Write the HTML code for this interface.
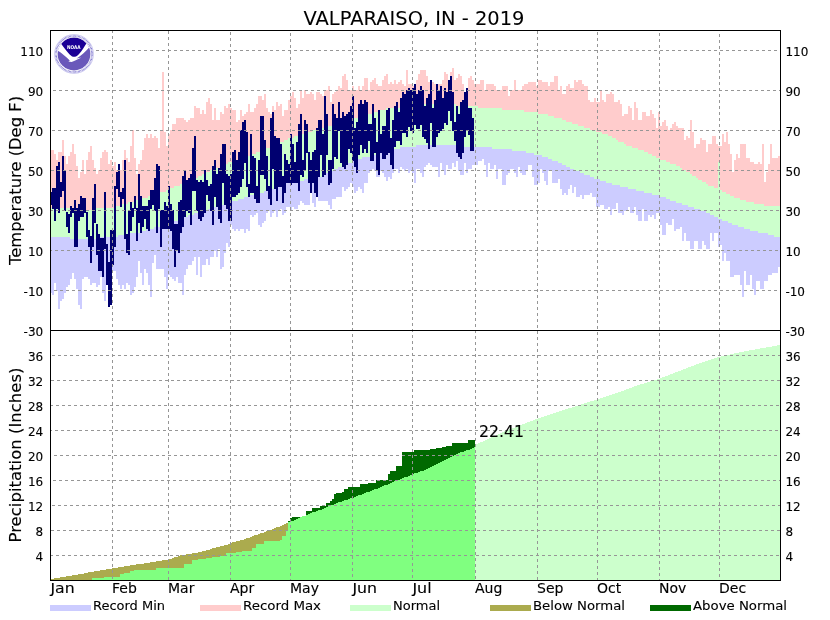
<!DOCTYPE html>
<html><head><meta charset="utf-8"><title>VALPARAISO, IN - 2019</title>
<style>html,body{margin:0;padding:0;background:#fff}svg{display:block}</style>
</head><body>
<svg width="830" height="620" viewBox="0 0 830 620">
<rect width="830" height="620" fill="#fff"/>
<g shape-rendering="crispEdges">
<path d="M50 236H52V293H50ZM52 236H54V295H52ZM54 236H56V283H54ZM56 236H58V291H56ZM58 236H60V309H58ZM60 236H62V301H60ZM62 236H64V299H62ZM64 236H66V293H64ZM66 236H68V287H66ZM68 236H70V285H68ZM70 238H72V279H70ZM72 238H74V273H72ZM74 238H76V279H74ZM76 238H78V289H76ZM78 238H80V305H78ZM80 238H82V309H80ZM82 238H84V279H82ZM84 238H88V277H84ZM88 238H90V279H88ZM90 238H92V285H90ZM92 238H96V283H92ZM96 236H98V287H96ZM98 236H100V285H98ZM100 236H102V277H100ZM102 236H104V293H102ZM104 236H106V301H104ZM106 236H112V285H106ZM112 236H116V271H112ZM116 236H118V279H116ZM118 234H120V285H118ZM120 234H122V289H120ZM122 234H124V285H122ZM124 234H126V289H124ZM126 234H128V283H126ZM128 232H130V285H128ZM130 232H132V295H130ZM132 232H134V293H132ZM134 232H136V287H134ZM136 232H138V277H136ZM138 232H140V261H138ZM140 230H142V273H140ZM142 230H144V285H142ZM144 230H146V269H144ZM146 228H148V273H146ZM148 228H150V285H148ZM150 228H152V297H150ZM152 228H154V263H152ZM154 226H156V255H154ZM156 226H160V269H156ZM160 224H164V269H160ZM164 224H166V277H164ZM166 224H168V289H166ZM168 222H170V275H168ZM170 222H172V277H170ZM172 220H174V279H172ZM174 220H176V281H174ZM176 220H178V277H176ZM178 218H182V283H178ZM182 216H184V295H182ZM184 216H186V275H184ZM186 216H188V269H186ZM188 214H192V265H188ZM192 214H194V261H192ZM194 212H196V257H194ZM196 212H198V275H196ZM198 212H200V257H198ZM200 212H202V277H200ZM202 210H206V265H202ZM206 210H208V259H206ZM208 208H210V265H208ZM210 208H214V257H210ZM214 206H216V251H214ZM216 206H218V257H216ZM218 206H220V249H218ZM220 204H222V269H220ZM222 204H224V267H222ZM224 204H226V253H224ZM226 202H228V243H226ZM228 202H230V247H228ZM230 202H232V225H230ZM232 200H234V229H232ZM234 200H236V231H234ZM236 200H238V229H236ZM238 198H240V231H238ZM240 198H244V229H240ZM244 196H246V233H244ZM246 196H248V229H246ZM248 196H250V231H248ZM250 194H252V215H250ZM252 194H254V217H252ZM254 194H256V215H254ZM256 194H258V213H256ZM258 192H260V225H258ZM260 192H262V227H260ZM262 192H264V223H262ZM264 190H266V221H264ZM266 190H268V213H266ZM268 190H270V211H268ZM270 190H272V217H270ZM272 188H274V213H272ZM274 188H276V211H274ZM276 188H278V217H276ZM278 186H280V211H278ZM280 186H282V209H280ZM282 184H284V215H282ZM284 184H286V213H284ZM286 182H290V207H286ZM290 182H292V211H290ZM292 182H294V207H292ZM294 182H296V209H294ZM296 180H298V209H296ZM298 180H300V205H298ZM300 180H302V201H300ZM302 180H304V203H302ZM304 178H310V205H304ZM310 178H312V193H310ZM312 176H314V203H312ZM314 176H316V207H314ZM316 176H318V197H316ZM318 176H322V201H318ZM322 174H326V201H322ZM326 172H328V201H326ZM328 172H330V205H328ZM330 170H332V209H330ZM332 170H334V199H332ZM334 168H336V199H334ZM336 168H338V197H336ZM338 166H342V197H338ZM342 166H344V187H342ZM344 164H346V191H344ZM346 164H348V189H346ZM348 162H350V187H348ZM350 162H352V183H350ZM352 160H354V187H352ZM354 160H356V193H354ZM356 160H358V191H356ZM358 158H360V187H358ZM360 158H362V189H360ZM362 156H364V193H362ZM364 156H368V183H364ZM368 156H370V173H368ZM370 154H372V171H370ZM372 154H374V169H372ZM374 154H376V171H374ZM376 152H380V177H376ZM380 152H382V171H380ZM382 152H384V173H382ZM384 150H386V177H384ZM386 150H388V181H386ZM388 150H390V177H388ZM390 148H392V179H390ZM392 148H394V173H392ZM394 148H398V169H394ZM398 148H400V173H398ZM400 146H402V167H400ZM402 146H404V169H402ZM404 146H406V171H404ZM406 146H408V169H406ZM408 146H410V173H408ZM410 146H412V171H410ZM412 146H414V173H412ZM414 146H416V183H414ZM416 144H420V169H416ZM420 144H422V173H420ZM422 144H424V177H422ZM424 144H426V167H424ZM426 144H428V165H426ZM428 144H430V163H428ZM430 144H432V165H430ZM432 144H438V167H432ZM438 144H440V177H438ZM440 144H442V163H440ZM442 144H444V171H442ZM444 144H446V175H444ZM446 144H448V165H446ZM448 144H452V169H448ZM452 144H454V163H452ZM454 144H456V167H454ZM456 144H458V161H456ZM458 146H460V171H458ZM460 146H464V175H460ZM464 146H466V163H464ZM466 146H468V173H466ZM468 146H472V169H468ZM472 146H478V165H472ZM478 146H482V161H478ZM482 146H484V159H482ZM484 146H486V165H484ZM486 146H488V177H486ZM488 146H490V163H488ZM490 146H492V169H490ZM492 148H494V169H492ZM494 148H496V165H494ZM496 148H498V179H496ZM498 148H502V169H498ZM502 148H506V185H502ZM506 148H508V175H506ZM508 148H510V173H508ZM510 148H512V169H510ZM512 150H514V169H512ZM514 150H516V173H514ZM516 150H518V177H516ZM518 150H520V167H518ZM520 150H522V173H520ZM522 150H526V175H522ZM526 152H528V171H526ZM528 152H532V165H528ZM532 152H534V177H532ZM534 154H538V185H534ZM538 154H540V183H538ZM540 154H542V169H540ZM542 156H544V173H542ZM544 156H546V181H544ZM546 156H548V185H546ZM548 158H552V171H548ZM552 160H558V183H552ZM558 162H560V179H558ZM560 162H562V189H560ZM562 164H564V195H562ZM564 164H566V193H564ZM566 166H568V195H566ZM568 166H570V189H568ZM570 168H572V185H570ZM572 168H574V193H572ZM574 170H576V187H574ZM576 170H580V197H576ZM580 172H582V195H580ZM582 172H584V199H582ZM584 174H590V195H584ZM590 176H592V193H590ZM592 176H594V197H592ZM594 178H596V197H594ZM596 178H600V207H596ZM600 180H604V205H600ZM604 180H606V209H604ZM606 182H608V209H606ZM608 182H610V207H608ZM610 182H612V215H610ZM612 184H616V209H612ZM616 184H618V203H616ZM618 184H620V213H618ZM620 186H622V213H620ZM622 186H624V215H622ZM624 186H628V211H624ZM628 188H630V207H628ZM630 188H634V213H630ZM634 188H636V207H634ZM636 190H638V215H636ZM638 190H642V221H638ZM642 190H644V209H642ZM644 192H648V221H644ZM648 192H650V215H648ZM650 192H652V217H650ZM652 194H654V215H652ZM654 194H656V219H654ZM656 194H660V213H656ZM660 196H662V225H660ZM662 196H666V235H662ZM666 198H668V223H666ZM668 198H670V225H668ZM670 200H672V225H670ZM672 200H674V219H672ZM674 200H676V231H674ZM676 202H680V229H676ZM680 202H682V227H680ZM682 204H684V241H682ZM684 204H686V233H684ZM686 204H688V241H686ZM688 206H690V241H688ZM690 206H694V249H690ZM694 208H698V241H694ZM698 208H700V249H698ZM700 210H702V249H700ZM702 210H704V241H702ZM704 210H706V245H704ZM706 212H710V249H706ZM710 214H712V233H710ZM712 214H714V241H712ZM714 216H718V233H714ZM718 218H720V247H718ZM720 218H722V245H720ZM722 220H724V261H722ZM724 220H726V253H724ZM726 220H728V261H726ZM728 222H730V261H728ZM730 222H732V277H730ZM732 224H734V277H732ZM734 224H738V275H734ZM738 226H740V275H738ZM740 226H742V285H740ZM742 226H744V297H742ZM744 228H746V271H744ZM746 228H750V285H746ZM750 230H752V275H750ZM752 230H754V289H752ZM754 230H756V295H754ZM756 230H758V281H756ZM758 232H760V281H758ZM760 232H764V289H760ZM764 232H768V281H764ZM768 234H772V275H768ZM772 234H774V273H772ZM774 236H778V273H774ZM778 236H780V267H778Z" fill="#ccccff"/>
<path d="M50 208H70V237H50ZM70 208H76V239H70ZM76 210H94V239H76ZM94 208H96V239H94ZM96 208H114V237H96ZM114 206H118V237H114ZM118 206H122V235H118ZM122 204H128V235H122ZM128 202H136V233H128ZM136 200H140V233H136ZM140 200H142V231H140ZM142 198H146V231H142ZM146 198H148V229H146ZM148 196H154V229H148ZM154 194H160V227H154ZM160 192H166V225H160ZM166 190H168V225H166ZM168 190H170V223H168ZM170 188H172V223H170ZM172 188H174V221H172ZM174 186H178V221H174ZM178 186H180V219H178ZM180 184H182V219H180ZM182 184H184V217H182ZM184 182H188V217H184ZM188 180H192V215H188ZM192 178H194V215H192ZM194 178H198V213H194ZM198 176H202V213H198ZM202 174H206V211H202ZM206 172H208V211H206ZM208 172H210V209H208ZM210 170H214V209H210ZM214 170H216V207H214ZM216 168H220V207H216ZM220 166H224V205H220ZM224 164H226V205H224ZM226 164H228V203H226ZM228 162H232V203H228ZM232 162H234V201H232ZM234 160H238V201H234ZM238 160H240V199H238ZM240 158H244V199H240ZM244 156H250V197H244ZM250 154H256V195H250ZM256 152H258V195H256ZM258 152H260V193H258ZM260 150H264V193H260ZM264 148H270V191H264ZM270 146H272V191H270ZM272 146H274V189H272ZM274 144H278V189H274ZM278 142H282V187H278ZM282 142H284V185H282ZM284 140H286V185H284ZM286 140H288V183H286ZM288 138H294V183H288ZM294 136H296V183H294ZM296 136H300V181H296ZM300 134H304V181H300ZM304 134H306V179H304ZM306 132H312V179H306ZM312 130H320V177H312ZM320 128H322V177H320ZM322 128H326V175H322ZM326 126H330V173H326ZM330 126H332V171H330ZM332 124H334V171H332ZM334 124H338V169H334ZM338 124H340V167H338ZM340 122H344V167H340ZM344 122H346V165H344ZM346 120H348V165H346ZM348 120H352V163H348ZM352 118H358V161H352ZM358 118H360V159H358ZM360 116H362V159H360ZM362 116H366V157H362ZM366 114H370V157H366ZM370 114H372V155H370ZM372 112H376V155H372ZM376 112H378V153H376ZM378 110H384V153H378ZM384 110H386V151H384ZM386 108H390V151H386ZM390 108H400V149H390ZM400 106H416V147H400ZM416 106H418V145H416ZM418 104H456V145H418ZM456 106H458V145H456ZM458 106H478V147H458ZM478 108H492V147H478ZM492 108H502V149H492ZM502 110H512V149H502ZM512 110H524V151H512ZM524 112H526V151H524ZM526 112H534V153H526ZM534 112H538V155H534ZM538 114H542V155H538ZM542 114H548V157H542ZM548 116H552V159H548ZM552 116H554V161H552ZM554 118H558V161H554ZM558 118H562V163H558ZM562 120H566V165H562ZM566 122H570V167H566ZM570 122H572V169H570ZM572 124H574V169H572ZM574 124H578V171H574ZM578 126H580V171H578ZM580 126H584V173H580ZM584 128H590V175H584ZM590 130H594V177H590ZM594 130H596V179H594ZM596 132H600V179H596ZM600 132H602V181H600ZM602 134H606V181H602ZM606 134H608V183H606ZM608 136H612V183H608ZM612 138H616V185H612ZM616 140H618V185H616ZM618 142H620V185H618ZM620 142H624V187H620ZM624 144H626V187H624ZM626 146H628V187H626ZM628 146H632V189H628ZM632 148H636V189H632ZM636 148H638V191H636ZM638 150H644V191H638ZM644 152H648V193H644ZM648 154H652V193H648ZM652 156H656V195H652ZM656 158H660V195H656ZM660 160H666V197H660ZM666 162H670V199H666ZM670 164H676V201H670ZM676 166H680V203H676ZM680 168H682V203H680ZM682 170H686V205H682ZM686 172H688V205H686ZM688 172H690V207H688ZM690 174H692V207H690ZM692 176H694V207H692ZM694 176H696V209H694ZM696 178H698V209H696ZM698 180H700V209H698ZM700 180H702V211H700ZM702 182H706V211H702ZM706 184H708V213H706ZM708 186H710V213H708ZM710 186H714V215H710ZM714 188H718V217H714ZM718 162H720V219H718ZM720 190H722V219H720ZM722 192H726V221H722ZM726 194H728V221H726ZM728 194H730V223H728ZM730 196H732V223H730ZM732 196H734V225H732ZM734 198H738V225H734ZM738 198H740V227H738ZM740 200H744V227H740ZM744 200H746V229H744ZM746 202H750V229H746ZM750 202H754V231H750ZM754 204H758V231H754ZM758 204H764V233H758ZM764 206H768V233H764ZM768 206H774V235H768ZM774 206H780V237H774Z" fill="#ccffcc"/>
<path d="M50 150H54V208H50ZM54 154H56V208H54ZM56 160H58V208H56ZM58 152H62V208H58ZM62 140H64V208H62ZM64 156H66V208H64ZM66 164H68V208H66ZM68 156H70V208H68ZM70 152H72V208H70ZM72 144H74V208H72ZM74 154H76V208H74ZM76 166H78V210H76ZM78 178H80V210H78ZM80 172H82V210H80ZM82 160H84V210H82ZM84 174H86V210H84ZM86 160H88V210H86ZM88 152H90V210H88ZM90 146H92V210H90ZM92 160H94V210H92ZM94 168H96V208H94ZM96 174H98V208H96ZM98 170H100V208H98ZM100 158H102V208H100ZM102 152H104V208H102ZM104 150H106V208H104ZM106 152H108V208H106ZM108 164H110V208H108ZM110 160H112V208H110ZM112 166H114V208H112ZM114 162H116V206H114ZM116 170H118V206H116ZM118 172H120V206H118ZM120 170H122V206H120ZM122 160H124V204H122ZM124 150H126V204H124ZM126 158H128V204H126ZM128 162H130V202H128ZM130 146H132V202H130ZM132 130H134V202H132ZM134 158H136V202H134ZM136 174H138V200H136ZM138 164H140V200H138ZM140 160H142V200H140ZM142 150H144V198H142ZM144 138H146V198H144ZM146 134H148V198H146ZM148 138H150V196H148ZM150 134H152V196H150ZM152 138H154V196H152ZM154 136H156V194H154ZM156 138H158V194H156ZM158 148H160V194H158ZM160 130H162V192H160ZM162 72H164V192H162ZM164 132H166V192H164ZM166 146H168V190H166ZM168 134H170V190H168ZM170 130H172V188H170ZM172 124H174V188H172ZM174 124H176V186H174ZM176 118H180V186H176ZM180 118H184V184H180ZM184 120H186V182H184ZM186 122H188V182H186ZM188 120H190V180H188ZM190 118H192V180H190ZM192 118H194V178H192ZM194 106H196V178H194ZM196 108H198V178H196ZM198 108H200V176H198ZM200 114H202V176H200ZM202 110H204V174H202ZM204 114H206V174H204ZM206 102H208V172H206ZM208 98H210V172H208ZM210 104H212V170H210ZM212 120H214V170H212ZM214 108H216V170H214ZM216 120H220V168H216ZM220 112H222V166H220ZM222 114H224V166H222ZM224 106H226V164H224ZM226 108H228V164H226ZM228 104H230V162H228ZM230 108H232V162H230ZM232 110H234V162H232ZM234 110H236V160H234ZM236 122H238V160H236ZM238 120H240V160H238ZM240 110H242V158H240ZM242 116H244V158H242ZM244 114H246V156H244ZM246 112H248V156H246ZM248 104H250V156H248ZM250 112H254V154H250ZM254 108H256V154H254ZM256 104H258V152H256ZM258 96H260V152H258ZM260 96H262V150H260ZM262 100H264V150H262ZM264 94H266V148H264ZM266 108H268V148H266ZM268 112H270V148H268ZM270 114H272V146H270ZM272 106H274V146H272ZM274 110H276V144H274ZM276 102H278V144H276ZM278 106H280V142H278ZM280 104H282V142H280ZM282 116H284V142H282ZM284 110H288V140H284ZM288 100H290V138H288ZM290 96H292V138H290ZM292 92H294V138H292ZM294 98H296V136H294ZM296 108H298V136H296ZM298 104H300V136H298ZM300 90H302V134H300ZM302 98H304V134H302ZM304 90H306V134H304ZM306 94H310V132H306ZM310 92H312V132H310ZM312 94H314V130H312ZM314 100H316V130H314ZM316 92H320V130H316ZM320 94H322V128H320ZM322 96H324V128H322ZM324 90H326V128H324ZM326 90H328V126H326ZM328 86H330V126H328ZM330 102H332V126H330ZM332 94H334V124H332ZM334 92H336V124H334ZM336 90H338V124H336ZM338 86H340V124H338ZM340 88H342V122H340ZM342 76H344V122H342ZM344 74H346V122H344ZM346 80H348V120H346ZM348 90H352V120H348ZM352 86H354V118H352ZM354 90H358V118H354ZM358 86H360V118H358ZM360 90H362V116H360ZM362 86H364V116H362ZM364 78H366V116H364ZM366 78H368V114H366ZM368 90H370V114H368ZM370 82H372V114H370ZM372 80H374V112H372ZM374 78H376V112H374ZM376 84H378V112H376ZM378 86H382V110H378ZM382 80H384V110H382ZM384 76H386V110H384ZM386 74H388V108H386ZM388 84H390V108H388ZM390 82H392V108H390ZM392 84H394V108H392ZM394 80H396V108H394ZM396 84H398V108H396ZM398 82H400V108H398ZM400 80H402V106H400ZM402 84H404V106H402ZM404 86H406V106H404ZM406 70H408V106H406ZM408 84H412V106H408ZM412 86H414V106H412ZM414 84H416V106H414ZM416 80H418V106H416ZM418 74H420V104H418ZM420 70H426V104H420ZM426 76H428V104H426ZM428 82H434V104H428ZM434 84H442V104H434ZM442 80H444V104H442ZM444 72H446V104H444ZM446 74H448V104H446ZM448 80H450V104H448ZM450 72H452V104H450ZM452 68H454V104H452ZM454 80H456V104H454ZM456 78H458V106H456ZM458 74H460V106H458ZM460 76H462V106H460ZM462 84H464V106H462ZM464 92H466V106H464ZM466 88H468V106H466ZM468 78H470V106H468ZM470 76H472V106H470ZM472 80H474V106H472ZM474 84H478V106H474ZM478 84H480V108H478ZM480 80H484V108H480ZM484 90H486V108H484ZM486 84H494V108H486ZM494 86H496V108H494ZM496 90H502V108H496ZM502 86H508V110H502ZM508 96H510V110H508ZM510 90H514V110H510ZM514 80H516V110H514ZM516 90H522V110H516ZM522 86H524V110H522ZM524 84H528V112H524ZM528 82H536V112H528ZM536 86H538V112H536ZM538 80H542V114H538ZM542 82H548V114H542ZM548 86H550V116H548ZM550 82H554V116H550ZM554 76H558V118H554ZM558 90H560V118H558ZM560 86H562V118H560ZM562 94H566V120H562ZM566 86H568V122H566ZM568 84H570V122H568ZM570 88H572V122H570ZM572 88H574V124H572ZM574 80H576V124H574ZM576 82H578V124H576ZM578 80H582V126H578ZM582 84H584V126H582ZM584 86H588V128H584ZM588 100H590V128H588ZM590 102H594V130H590ZM594 98H596V130H594ZM596 102H600V132H596ZM600 90H602V132H600ZM602 100H604V134H602ZM604 102H606V134H604ZM606 94H608V134H606ZM608 94H610V136H608ZM610 92H612V136H610ZM612 94H614V138H612ZM614 102H616V138H614ZM616 102H618V140H616ZM618 100H620V142H618ZM620 104H622V142H620ZM622 116H624V142H622ZM624 114H626V144H624ZM626 114H628V146H626ZM628 106H630V146H628ZM630 108H632V146H630ZM632 120H634V148H632ZM634 102H636V148H634ZM636 108H638V148H636ZM638 120H642V150H638ZM642 112H644V150H642ZM644 112H646V152H644ZM646 116H648V152H646ZM648 116H650V154H648ZM650 110H652V154H650ZM652 114H654V156H652ZM654 118H656V156H654ZM656 128H658V158H656ZM658 112H660V158H658ZM660 126H662V160H660ZM662 122H664V160H662ZM664 120H666V160H664ZM666 126H668V162H666ZM668 130H670V162H668ZM670 128H672V164H670ZM672 124H674V164H672ZM674 122H676V164H674ZM676 126H678V166H676ZM678 128H680V166H678ZM680 128H682V168H680ZM682 128H684V170H682ZM684 140H686V170H684ZM686 136H688V172H686ZM688 138H690V172H688ZM690 120H692V174H690ZM692 132H694V176H692ZM694 148H696V176H694ZM696 144H698V178H696ZM698 144H700V180H698ZM700 138H702V180H700ZM702 140H706V182H702ZM706 152H708V184H706ZM708 144H712V186H708ZM712 136H714V186H712ZM714 136H716V188H714ZM716 144H718V188H716ZM718 146H720V162H718ZM720 146H722V190H720ZM722 134H724V192H722ZM724 142H726V192H724ZM726 132H728V194H726ZM728 144H730V194H728ZM730 154H732V196H730ZM732 172H734V196H732ZM734 160H736V198H734ZM736 154H738V198H736ZM738 158H740V198H738ZM740 144H746V200H740ZM746 158H750V202H746ZM750 162H754V202H750ZM754 164H758V204H754ZM758 162H760V204H758ZM760 164H762V204H760ZM762 144H764V204H762ZM764 182H766V206H764ZM766 172H768V206H766ZM768 164H770V206H768ZM770 144H772V206H770ZM772 158H778V206H772ZM778 156H780V206H778Z" fill="#ffcccc"/>
<path d="M50 192H52V205H50ZM52 188H54V209H52ZM54 188H56V221H54ZM56 166H58V209H56ZM58 162H60V213H58ZM60 182H62V197H60ZM62 156H64V191H62ZM64 170H66V211H64ZM66 212H68V227H66ZM68 214H70V233H68ZM70 206H72V217H70ZM72 208H74V213H72ZM74 200H76V247H74ZM76 208H78V247H76ZM78 204H80V221H78ZM80 196H82V217H80ZM82 198H84V217H82ZM84 198H86V213H84ZM86 212H88V237H86ZM88 230H90V247H88ZM90 236H92V263H90ZM92 198H94V247H92ZM94 184H96V223H94ZM96 224H98V255H96ZM98 234H100V271H98ZM100 238H102V271H100ZM102 238H104V277H102ZM104 192H106V249H104ZM106 244H108V285H106ZM108 262H110V307H108ZM110 230H112V305H110ZM112 230H114V265H112ZM114 186H116V247H114ZM116 172H118V189H116ZM118 164H120V197H118ZM120 192H122V207H120ZM122 188H124V199H122ZM124 160H126V239H124ZM126 234H128V253H126ZM128 210H130V255H128ZM130 202H132V231H130ZM132 208H134V217H132ZM134 196H136V209H134ZM136 208H138V241H136ZM138 174H140V223H138ZM140 196H142V233H140ZM142 206H144V227H142ZM144 206H146V219H144ZM146 206H148V229H146ZM148 200H150V231H148ZM150 190H152V209H150ZM152 190H154V205H152ZM154 178H156V211H154ZM156 164H158V233H156ZM158 166H160V209H158ZM160 210H162V247H160ZM162 210H164V229H162ZM164 202H166V229H164ZM166 206H168V229H166ZM168 186H170V229H168ZM170 204H172V231H170ZM172 210H174V249H172ZM174 224H176V267H174ZM176 224H178V251H176ZM178 202H180V253H178ZM180 200H182V233H180ZM182 176H184V227H182ZM184 170H186V217H184ZM186 180H188V211H186ZM188 178H190V213H188ZM190 174H192V225H190ZM192 148H194V191H192ZM194 136H196V191H194ZM196 180H198V211H196ZM198 182H200V219H198ZM200 180H202V221H200ZM202 182H204V217H202ZM204 170H206V213H204ZM206 180H208V195H206ZM208 186H210V201H208ZM210 184H212V211H210ZM212 166H214V225H212ZM214 160H216V197H214ZM216 174H218V207H216ZM218 168H220V219H218ZM220 154H222V223H220ZM222 144H224V183H222ZM224 144H226V205H224ZM226 174H228V209H226ZM228 176H230V221H228ZM230 174H232V221H230ZM232 152H234V197H232ZM234 150H236V197H234ZM236 160H238V195H236ZM238 152H240V193H238ZM240 130H242V187H240ZM242 122H244V179H242ZM244 120H246V163H244ZM246 132H248V187H246ZM248 184H250V197H248ZM250 134H252V193H250ZM252 156H254V193H252ZM254 158H256V199H254ZM256 186H258V203H256ZM258 160H260V203H258ZM260 116H264V175H260ZM264 140H266V179H264ZM266 156H268V191H266ZM268 186H270V199H268ZM270 118H272V205H270ZM272 112H274V169H272ZM274 136H276V189H274ZM276 138H278V201H276ZM278 138H280V187H278ZM280 144H282V187H280ZM282 176H284V203H282ZM284 154H286V193H284ZM286 160H288V183H286ZM288 164H290V183H288ZM290 134H292V185H290ZM292 144H294V183H292ZM294 162H296V183H294ZM296 142H298V183H296ZM298 124H300V191H298ZM300 114H302V175H300ZM302 160H304V177H302ZM304 120H306V171H304ZM306 124H308V153H306ZM308 152H310V183H308ZM310 160H312V193H310ZM312 152H314V183H312ZM314 150H316V193H314ZM316 128H318V197H316ZM318 120H320V177H318ZM320 120H322V155H320ZM322 134H324V177H322ZM324 96H326V175H324ZM326 114H328V155H326ZM328 160H330V185H328ZM330 160H332V183H330ZM332 104H334V169H332ZM334 114H336V157H334ZM336 118H338V159H336ZM338 102H340V131H338ZM340 118H342V163H340ZM342 112H344V167H342ZM344 116H346V169H344ZM346 114H348V165H346ZM348 112H350V149H348ZM350 106H352V153H350ZM352 96H354V161H352ZM354 128H356V167H354ZM356 122H358V173H356ZM358 104H360V155H358ZM360 100H362V145H360ZM362 104H364V153H362ZM364 100H366V149H364ZM366 102H368V153H366ZM368 124H370V141H368ZM370 124H372V161H370ZM372 104H374V161H372ZM374 118H376V153H374ZM376 142H378V171H376ZM378 110H380V175H378ZM380 134H382V153H380ZM382 126H386V159H382ZM386 110H388V155H386ZM388 108H390V153H388ZM390 138H392V165H390ZM392 120H394V169H392ZM394 106H396V147H394ZM396 102H398V141H396ZM398 112H400V141H398ZM400 98H402V145H400ZM402 92H404V133H402ZM404 94H406V133H404ZM406 90H408V137H406ZM408 88H410V127H408ZM410 90H412V131H410ZM412 88H414V133H412ZM414 84H416V125H414ZM416 94H418V129H416ZM418 90H420V129H418ZM420 86H422V125H420ZM422 90H424V137H422ZM424 106H426V139H424ZM426 98H428V143H426ZM428 94H430V149H428ZM430 80H432V123H430ZM432 108H434V147H432ZM434 100H436V147H434ZM436 84H438V137H436ZM438 90H440V133H438ZM440 86H442V131H440ZM442 98H444V129H442ZM444 88H446V123H444ZM446 92H448V125H446ZM448 80H450V111H448ZM450 76H452V121H450ZM452 92H454V131H452ZM454 122H456V141H454ZM456 106H458V153H456ZM458 114H460V157H458ZM460 102H462V159H460ZM462 100H464V153H462ZM464 92H466V137H464ZM466 88H468V131H466ZM468 108H470V135H468ZM470 108H472V151H470ZM472 118H474V151H472Z" fill="#000070"/>
<path d="M475,580L475,445L505,431.2L537,418.8L560,411.2L597,399.4L620,391.9L635,386.2L659,378.8L695,365L719,356.9L745,351.2L780,345L781,580Z" fill="#ccffcc"/>
<path d="M92 578H104V580H92ZM104 577H120V580H104ZM120 574H124V580H120ZM124 573H130V580H124ZM130 571H134V580H130ZM134 570H156V580H134ZM156 568H184V580H156ZM184 564H192V580H184ZM192 560H198V580H192ZM198 559H206V580H198ZM206 558H212V580H206ZM212 557H220V580H212ZM220 556H226V580H220ZM226 553H236V580H226ZM236 552H242V580H236ZM242 551H252V580H242ZM252 548H256V580H252ZM256 544H264V580H256ZM264 541H280V580H264ZM280 540H282V580H280ZM282 536H286V580H282ZM286 530H288V580H286ZM288 522H290V580H288ZM290 521H294V580H290ZM294 520H296V580H294ZM296 519H298V580H296ZM298 518H300V580H298ZM300 517H302V580H300ZM302 516H306V580H302ZM306 515H308V580H306ZM308 514H310V580H308ZM310 513H312V580H310ZM312 512H316V580H312ZM316 511H318V580H316ZM318 510H322V580H318ZM322 509H324V580H322ZM324 508H326V580H324ZM326 507H328V580H326ZM328 506H330V580H328ZM330 505H334V580H330ZM334 504H336V580H334ZM336 503H338V580H336ZM338 502H342V580H338ZM342 501H344V580H342ZM344 500H348V580H344ZM348 499H350V580H348ZM350 498H354V580H350ZM354 497H356V580H354ZM356 496H358V580H356ZM358 495H362V580H358ZM362 494H364V580H362ZM364 493H366V580H364ZM366 492H370V580H366ZM370 491H372V580H370ZM372 490H374V580H372ZM374 489H378V580H374ZM378 488H380V580H378ZM380 487H382V580H380ZM382 486H384V580H382ZM384 485H388V580H384ZM388 484H390V580H388ZM390 483H392V580H390ZM392 482H394V580H392ZM394 481H398V580H394ZM398 480H400V580H398ZM400 479H402V580H400ZM402 478H404V580H402ZM404 477H408V580H404ZM408 476H410V580H408ZM410 475H412V580H410ZM412 474H414V580H412ZM414 473H418V580H414ZM418 472H420V580H418ZM420 471H424V580H420ZM424 470H426V580H424ZM426 469H428V580H426ZM428 468H430V580H428ZM430 467H432V580H430ZM432 466H434V580H432ZM434 465H436V580H434ZM436 464H438V580H436ZM438 463H440V580H438ZM440 462H442V580H440ZM442 461H444V580H442ZM444 460H446V580H444ZM446 459H448V580H446ZM448 458H450V580H448ZM450 457H452V580H450ZM452 456H454V580H452ZM454 455H456V580H454ZM456 454H458V580H456ZM458 453H460V580H458ZM460 452H464V580H460ZM464 451H466V580H464ZM466 450H470V580H466ZM470 449H472V580H470ZM472 448H474V580H472ZM474 447H475V580H474Z" fill="#80ff80"/>
<path d="M50 579H54V580H50ZM54 578H60V580H54ZM60 577H66V580H60ZM66 576H72V580H66ZM72 575H78V580H72ZM78 574H84V580H78ZM84 573H88V580H84ZM88 572H92V580H88ZM92 572H94V578H92ZM94 571H100V578H94ZM100 570H104V578H100ZM104 570H106V577H104ZM106 569H112V577H106ZM112 568H118V577H112ZM118 567H120V577H118ZM120 567H124V574H120ZM124 566H130V573H124ZM130 565H134V571H130ZM134 565H136V570H134ZM136 564H144V570H136ZM144 563H150V570H144ZM150 562H156V570H150ZM156 561H162V568H156ZM162 560H168V568H162ZM168 559H172V568H168ZM172 558H174V568H172ZM174 557H178V568H174ZM178 556H180V568H178ZM180 555H184V568H180ZM184 555H186V564H184ZM186 554H192V564H186ZM192 553H198V560H192ZM198 552H202V559H198ZM202 551H206V559H202ZM206 550H210V558H206ZM210 549H212V558H210ZM212 548H216V557H212ZM216 547H220V557H216ZM220 546H224V556H220ZM224 545H226V556H224ZM226 545H228V553H226ZM228 544H230V553H228ZM230 543H232V553H230ZM232 542H236V553H232ZM236 541H240V552H236ZM240 540H242V552H240ZM242 540H244V551H242ZM244 539H246V551H244ZM246 538H250V551H246ZM250 537H252V551H250ZM252 536H254V548H252ZM254 535H256V548H254ZM256 535H258V544H256ZM258 534H260V544H258ZM260 533H264V544H260ZM264 532H266V541H264ZM266 531H268V541H266ZM268 530H272V541H268ZM272 529H274V541H272ZM274 528H276V541H274ZM276 527H280V541H276ZM280 526H282V540H280ZM282 525H284V536H282ZM284 524H286V536H284ZM286 523H288V530H286Z" fill="#abab4e"/>
<path d="M288 521H290V522H288ZM290 518H292V521H290ZM292 517H294V521H292ZM294 517H296V520H294ZM296 517H298V519H296ZM298 517H300V518H298ZM306 511H308V515H306ZM308 511H310V514H308ZM310 511H312V513H310ZM312 508H316V512H312ZM316 508H318V511H316ZM318 508H320V510H318ZM320 506H322V510H320ZM322 506H324V509H322ZM324 506H326V508H324ZM326 503H328V507H326ZM328 503H330V506H328ZM330 501H332V505H330ZM332 499H334V505H332ZM334 494H336V504H334ZM336 493H338V503H336ZM338 493H342V502H338ZM342 492H344V501H342ZM344 489H348V500H344ZM348 487H350V499H348ZM350 487H354V498H350ZM354 487H356V497H354ZM356 487H358V496H356ZM358 487H360V495H358ZM360 484H362V495H360ZM362 484H364V494H362ZM364 484H366V493H364ZM366 484H368V492H366ZM368 483H370V492H368ZM370 483H372V491H370ZM372 483H374V490H372ZM374 483H376V489H374ZM376 480H378V489H376ZM378 480H380V488H378ZM380 480H382V487H380ZM382 480H384V486H382ZM384 480H388V485H384ZM388 474H390V484H388ZM390 471H392V483H390ZM392 471H394V482H392ZM394 471H396V481H394ZM396 466H398V481H396ZM398 466H400V480H398ZM400 466H402V479H400ZM402 452H404V478H402ZM404 452H408V477H404ZM408 452H410V476H408ZM410 452H412V475H410ZM412 452H414V474H412ZM414 450H418V473H414ZM418 450H420V472H418ZM420 450H424V471H420ZM424 450H426V470H424ZM426 450H428V469H426ZM428 450H430V468H428ZM430 449H432V467H430ZM432 449H434V466H432ZM434 449H436V465H434ZM436 448H438V464H436ZM438 448H440V463H438ZM440 448H442V462H440ZM442 447H444V461H442ZM444 447H446V460H444ZM446 446H448V459H446ZM448 446H450V458H448ZM450 446H452V457H450ZM452 443H454V456H452ZM454 443H456V455H454ZM456 443H458V454H456ZM458 443H460V453H458ZM460 443H464V452H460ZM464 443H466V451H464ZM466 443H468V450H466ZM468 440H470V450H468ZM470 440H472V449H470ZM472 440H474V448H472ZM474 440H475V447H474Z" fill="#006900"/>
<g fill="none" stroke="#969696" stroke-width="1" stroke-dasharray="3 3">
<path d="M112.5 30V580" stroke-dashoffset="0"/>
<path d="M168.5 30V580" stroke-dashoffset="5"/>
<path d="M230.5 30V580" stroke-dashoffset="4"/>
<path d="M290.5 30V580" stroke-dashoffset="3"/>
<path d="M352.5 30V580" stroke-dashoffset="2"/>
<path d="M412.5 30V580" stroke-dashoffset="1"/>
<path d="M475.5 30V580" stroke-dashoffset="0"/>
<path d="M537.5 30V580" stroke-dashoffset="5"/>
<path d="M597.5 30V580" stroke-dashoffset="4"/>
<path d="M659.5 30V580" stroke-dashoffset="3"/>
<path d="M719.5 30V580" stroke-dashoffset="2"/>
<path d="M96 50.5H780"/>
<path d="M51 90.5H780" stroke-dashoffset="4"/>
<path d="M51 130.5H780" stroke-dashoffset="5"/>
<path d="M51 170.5H780" stroke-dashoffset="0"/>
<path d="M51 210.5H780" stroke-dashoffset="1"/>
<path d="M51 250.5H780" stroke-dashoffset="2"/>
<path d="M51 290.5H780" stroke-dashoffset="3"/>
<path d="M51 355.5H780" stroke-dashoffset="5"/>
<path d="M51 380.5H780" stroke-dashoffset="0"/>
<path d="M51 405.5H780" stroke-dashoffset="1"/>
<path d="M51 430.5H780" stroke-dashoffset="2"/>
<path d="M51 455.5H780" stroke-dashoffset="3"/>
<path d="M51 480.5H780" stroke-dashoffset="4"/>
<path d="M51 505.5H780" stroke-dashoffset="5"/>
<path d="M51 530.5H780" stroke-dashoffset="0"/>
<path d="M51 555.5H780" stroke-dashoffset="1"/>
</g>
<path d="M50 30h731v1h-731zM50 330h731v1h-731zM50 580h731v1h-731zM50 30h1v551h-1zM780 30h1v551h-1z" fill="#000"/>
<rect x="50" y="605" width="41" height="6" fill="#ccccff"/>
<rect x="200" y="605" width="41" height="6" fill="#ffcccc"/>
<rect x="350" y="605" width="41" height="6" fill="#ccffcc"/>
<rect x="490" y="605" width="41" height="6" fill="#abab4e"/>
<rect x="650" y="605" width="41" height="6" fill="#006900"/>
</g>
<g transform="translate(74,54)">
<defs><clipPath id="cd"><circle r="16.4"/></clipPath></defs>
<rect x="-23" y="-23" width="45" height="45" fill="#fff"/>
<circle r="19.4" fill="#fff"/>
<circle r="18" fill="none" stroke="#4f44bc" stroke-width="1.7" stroke-dasharray="0.6 0.7" opacity="0.85"/>
<circle r="19.4" fill="none" stroke="#9a94e0" stroke-width="0.5"/>
<circle r="16.4" fill="#6a58ba"/>
<g clip-path="url(#cd)">
<path d="M-17.5 -4C-12 -1 -8 3 -4.2 6.4L-5.6 7.4L-2.4 8.1C0 7.2 3 5.6 7.4 3.5L2.6 4.5C7 1.6 11 -2 15.2 -6.6L18 -9V-18H-18Z" fill="#fff"/>
<path d="M-12.9 -10.2A16.4 16.4 0 0 1 12.5 -10.8C10.5 -8 8 -3 4.6 0.4C2.6 2.4 1.2 2.8 0 2.8C-1.4 2.8 -3 1.8 -4.6 0.2C-8 -3.4 -10 -6.6 -12.9 -10.2Z" fill="#1b0096"/>
</g>
<text x="-0.3" y="-5.3" font-family="'DejaVu Sans','Liberation Sans',sans-serif" font-size="5" font-weight="bold" fill="#fff" text-anchor="middle" textLength="13.6" lengthAdjust="spacingAndGlyphs">NOAA</text>
</g>
<g font-family="'DejaVu Sans','Liberation Sans',sans-serif" fill="#000" stroke="#000" stroke-width="0.12">
<text x="414" y="24.6" font-size="19" stroke-width="0.05" text-anchor="middle" textLength="221" lengthAdjust="spacingAndGlyphs">VALPARAISO, IN - 2019</text>
<text x="43.2" y="56" font-size="12" text-anchor="end">110</text>
<text x="785.4" y="56" font-size="12">110</text>
<text x="43.2" y="96" font-size="12" text-anchor="end">90</text>
<text x="785.4" y="96" font-size="12">90</text>
<text x="43.2" y="136" font-size="12" text-anchor="end">70</text>
<text x="785.4" y="136" font-size="12">70</text>
<text x="43.2" y="176" font-size="12" text-anchor="end">50</text>
<text x="785.4" y="176" font-size="12">50</text>
<text x="43.2" y="216" font-size="12" text-anchor="end">30</text>
<text x="785.4" y="216" font-size="12">30</text>
<text x="43.2" y="256" font-size="12" text-anchor="end">10</text>
<text x="785.4" y="256" font-size="12">10</text>
<text x="43.2" y="296" font-size="12" text-anchor="end">-10</text>
<text x="785.4" y="296" font-size="12">-10</text>
<text x="43.2" y="336" font-size="12" text-anchor="end">-30</text>
<text x="785.4" y="336" font-size="12">-30</text>
<text x="43.2" y="561" font-size="12" text-anchor="end">4</text>
<text x="785.4" y="561" font-size="12">4</text>
<text x="43.2" y="536" font-size="12" text-anchor="end">8</text>
<text x="785.4" y="536" font-size="12">8</text>
<text x="43.2" y="511" font-size="12" text-anchor="end">12</text>
<text x="785.4" y="511" font-size="12">12</text>
<text x="43.2" y="486" font-size="12" text-anchor="end">16</text>
<text x="785.4" y="486" font-size="12">16</text>
<text x="43.2" y="461" font-size="12" text-anchor="end">20</text>
<text x="785.4" y="461" font-size="12">20</text>
<text x="43.2" y="436" font-size="12" text-anchor="end">24</text>
<text x="785.4" y="436" font-size="12">24</text>
<text x="43.2" y="411" font-size="12" text-anchor="end">28</text>
<text x="785.4" y="411" font-size="12">28</text>
<text x="43.2" y="386" font-size="12" text-anchor="end">32</text>
<text x="785.4" y="386" font-size="12">32</text>
<text x="43.2" y="361" font-size="12" text-anchor="end">36</text>
<text x="785.4" y="361" font-size="12">36</text>
<text transform="translate(20.5,180.5) rotate(-90)" font-size="15.5" text-anchor="middle" textLength="169" lengthAdjust="spacingAndGlyphs">Temperature (Deg F)</text>
<text transform="translate(20.5,455) rotate(-90)" font-size="15.5" text-anchor="middle" textLength="175" lengthAdjust="spacingAndGlyphs">Precipitation (Inches)</text>
<text x="50.4" y="593" font-size="14" textLength="24.2" lengthAdjust="spacingAndGlyphs">Jan</text>
<text x="112" y="593" font-size="14">Feb</text>
<text x="168" y="593" font-size="14">Mar</text>
<text x="230" y="593" font-size="14">Apr</text>
<text x="290" y="593" font-size="14">May</text>
<text x="352.4" y="593" font-size="14" textLength="24.6" lengthAdjust="spacingAndGlyphs">Jun</text>
<text x="412.4" y="593" font-size="14" textLength="19.2" lengthAdjust="spacingAndGlyphs">Jul</text>
<text x="475" y="593" font-size="14">Aug</text>
<text x="537" y="593" font-size="14">Sep</text>
<text x="597" y="593" font-size="14">Oct</text>
<text x="659" y="593" font-size="14">Nov</text>
<text x="719" y="593" font-size="14">Dec</text>
<text x="93" y="610" font-size="13" textLength="72" lengthAdjust="spacingAndGlyphs">Record Min</text>
<text x="243" y="610" font-size="13" textLength="78" lengthAdjust="spacingAndGlyphs">Record Max</text>
<text x="393" y="610" font-size="13" textLength="47" lengthAdjust="spacingAndGlyphs">Normal</text>
<text x="533" y="610" font-size="13" textLength="92" lengthAdjust="spacingAndGlyphs">Below Normal</text>
<text x="693" y="610" font-size="13" textLength="94" lengthAdjust="spacingAndGlyphs">Above Normal</text>
<text x="479" y="437" font-size="15.5" textLength="45" lengthAdjust="spacingAndGlyphs">22.41</text>
</g>
</svg>
</body></html>
